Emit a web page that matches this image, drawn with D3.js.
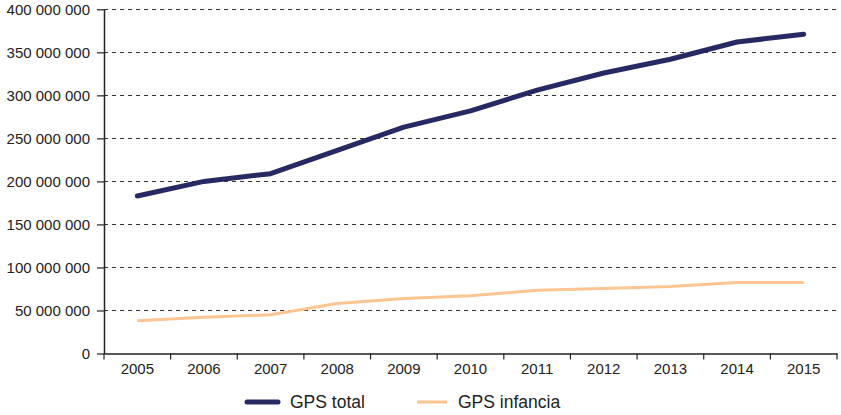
<!DOCTYPE html>
<html><head><meta charset="utf-8">
<script src="https://cdn.jsdelivr.net/npm/d3@7"></script>
<style>body{margin:0;background:#fff}svg{display:block;font-family:"Liberation Sans",Arial,sans-serif}</style>
</head><body><svg id="c" width="841" height="415"></svg>
<script>
const years = ["2005","2006","2007","2008","2009","2010","2011","2012","2013","2014","2015"];
const gpsTotal = [183000000,200000000,209000000,236000000,263000000,282000000,306000000,326000000,342000000,362000000,371000000];
const gpsInfancia = [38000000,42000000,45000000,58000000,64000000,67000000,73500000,75500000,78000000,82500000,82500000];
const yTicks = [0,50000000,100000000,150000000,200000000,250000000,300000000,350000000,400000000];
const seriesNames = ["GPS total","GPS infancia"];
const colors = ["#262a62","#fdc591"];
const widths = [5,3];

const svg = d3.select("#c");
const m = {l:104, r:837, t:9.3, b:353.5};
const x = d3.scaleBand().domain(years).range([m.l, m.r]);
const y = d3.scaleLinear().domain([0,400000000]).range([m.b, m.t]);
const fmt = v => d3.format(",")(v).replace(/,/g," ");

// grid
svg.append("g").selectAll("line").data(yTicks.filter(d=>d>0)).join("line")
  .attr("x1", m.l).attr("x2", m.r)
  .attr("y1", d=>Math.round(y(d))+0.5).attr("y2", d=>Math.round(y(d))+0.5)
  .attr("stroke","#333").attr("stroke-width",1).attr("stroke-dasharray","4,4");

// y axis
const ya = svg.append("g").attr("transform",`translate(${m.l},0)`)
  .call(d3.axisLeft(y).tickValues(yTicks).tickFormat(fmt).tickSize(7).tickSizeOuter(0));
ya.attr("font-size",15).attr("font-family","Liberation Sans, Arial, sans-serif");
ya.select(".domain").attr("stroke","#222").attr("stroke-width",1.5);
ya.selectAll(".tick line").attr("stroke","#222").attr("stroke-width",1.2);
ya.selectAll(".tick text").attr("fill","#222").attr("x",-14);

// x axis
const xa = svg.append("g").attr("transform",`translate(0,${m.b})`)
  .call(d3.axisBottom(x).tickSize(0).tickSizeOuter(0));
xa.attr("font-size",15).attr("font-family","Liberation Sans, Arial, sans-serif");
xa.select(".domain").attr("stroke","#222").attr("stroke-width",1.5);
xa.selectAll(".tick text").attr("fill","#222").attr("dy","0.71em").attr("y",10);
// boundary ticks
const bounds = years.map(d=>x(d)).concat([m.r]);
svg.append("g").selectAll("line").data(bounds).join("line")
  .attr("x1",d=>d).attr("x2",d=>d).attr("y1",m.b).attr("y2",m.b+6)
  .attr("stroke","#222").attr("stroke-width",1.2);

// lines
const line = d3.line().x((d,i)=>x(years[i])+x.bandwidth()/2).y(d=>y(d));
[gpsInfancia,gpsTotal].forEach((s,k)=>{
  const idx = k===0?1:0;
  svg.append("path").datum(s).attr("d",line).attr("fill","none")
    .attr("stroke",colors[idx]).attr("stroke-width",widths[idx])
    .attr("stroke-linejoin","round").attr("stroke-linecap",idx===0?"round":"butt");
});

// legend
const leg = [{x1:247,x2:278,tx:290},{x1:417,x2:447,tx:458}];
seriesNames.forEach((n,i)=>{
  svg.append("line").attr("x1",leg[i].x1).attr("x2",leg[i].x2).attr("y1",402).attr("y2",402)
    .attr("stroke",colors[i]).attr("stroke-width",widths[i]).attr("stroke-linecap",i===0?"round":"butt");
  svg.append("text").attr("x",leg[i].tx).attr("y",408).attr("font-size",17.5).attr("fill","#222").text(n);
});
</script></body></html>
